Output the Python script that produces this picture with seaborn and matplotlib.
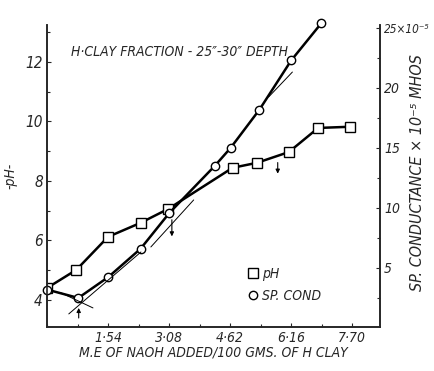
import numpy as np
import pandas as pd
import matplotlib
matplotlib.use("Agg")
import matplotlib.pyplot as plt
import seaborn as sns
from matplotlib.ticker import MultipleLocator
from matplotlib import font_manager

sns.set_style("ticks")
nomi = {f.name for f in font_manager.fontManager.ttflist}
famiglie = [n for n in ["DejaVu Sans Condensed", "Liberation Sans Narrow",
                        "DejaVu Sans"] if n in nomi]
plt.rcParams["font.family"] = famiglie
plt.rcParams["font.style"] = "italic"
plt.rcParams["font.stretch"] = "condensed"

# DATI

ph_x = [0.0, 0.74, 1.54, 2.36, 3.06, 4.68, 5.30, 6.10, 6.84, 7.64]
ph_y = [4.40, 5.01, 6.12, 6.59, 7.06, 8.44, 8.61, 8.97, 9.78, 9.82]

cond_x = [0.0, 0.79, 1.55, 2.36, 3.09, 4.23, 4.63, 5.36, 6.16, 6.92]
cond_y = [3.2, 2.5, 4.25, 6.6, 9.6, 13.5, 15.0, 18.2, 22.3, 25.4]

x_ticks = [1.54, 3.08, 4.62, 6.16, 7.70]
x_labels = ["1·54", "3·08", "4·62", "6·16", "7·70"]
ph_ticks = [4, 6, 8, 10, 12]
cond_ticks = [5, 10, 15, 20, 25]
cond_labels = ["5", "10", "15", "20", "25×10⁻⁵"]

# linee di costruzione (tangenti) e frecce
tang_x = [[0.55, 2.37], [0.36, 1.16], [2.62, 3.70], [5.59, 6.19]]
tang_y = [[1.17, 6.33], [2.92, 1.67], [6.75, 10.67], [19.25, 21.33]]
freccia_cond = [(0.80, 0.6, 1.9), (3.15, 9.25, 7.4)]
freccia_ph = [(5.82, 8.71, 8.15)]

df_ph = pd.DataFrame({"x": ph_x, "y": ph_y})
df_cond = pd.DataFrame({"x": cond_x, "y": cond_y})

fig = plt.figure(figsize=(4.35, 3.71), dpi=100)
ax = fig.add_axes([0.108, 0.1186, 0.7656, 0.814])
ax2 = ax.twinx()

sns.lineplot(data=df_ph, x="x", y="y", ax=ax, color="black", linewidth=1.8,
             marker="s", markersize=7, markerfacecolor="white",
             markeredgecolor="black", markeredgewidth=1.0, sort=False,
             estimator=None, label="pH", legend=False)
sns.lineplot(data=df_cond, x="x", y="y", ax=ax2, color="black", linewidth=1.8,
             marker="o", markersize=6, markerfacecolor="white",
             markeredgecolor="black", markeredgewidth=1.0, sort=False,
             estimator=None, label="SP. COND", legend=False)
for l in ax2.lines:
    l.set_clip_on(False)

for tx, ty in zip(tang_x, tang_y):
    ax2.plot(tx, ty, color="black", linewidth=0.7)

for fx, y0, y1 in freccia_cond:
    ax2.annotate("", xy=(fx, y1), xytext=(fx, y0),
                 arrowprops=dict(arrowstyle="-|>", color="black", lw=0.8,
                                 mutation_scale=6))
for fx, y0, y1 in freccia_ph:
    ax.annotate("", xy=(fx, y1), xytext=(fx, y0),
                arrowprops=dict(arrowstyle="-|>", color="black", lw=0.8,
                                mutation_scale=6))

ax.set_xlim(0, 8.4)
ax.set_ylim(3.09, 13.24)
ax2.set_ylim(0.08, 25.25)

ax.set_xticks(x_ticks)
ax.set_xticklabels(x_labels, fontsize=10)
ax.xaxis.set_minor_locator(MultipleLocator(0.77))
ax.set_yticks(ph_ticks)
ax.set_yticklabels([str(v) for v in ph_ticks], fontsize=11)
ax.yaxis.set_minor_locator(MultipleLocator(1))
ax2.set_yticks(cond_ticks)
ax2.set_yticklabels(cond_labels, fontsize=10)
ax2.yaxis.set_minor_locator(MultipleLocator(2.5))
ax2.get_yticklabels()[-1].set_fontsize(8.5)

for a in (ax, ax2):
    a.tick_params(which="both", direction="in", length=3, width=0.8, pad=3)
    a.tick_params(which="minor", length=2)
    for s in a.spines.values():
        s.set_linewidth(1.2)
    a.spines["top"].set_visible(False)

ax.set_xlabel("M.E OF NAOH ADDED/100 GMS. OF H CLAY", fontsize=10, labelpad=0)
ax.set_ylabel("-pH-", fontsize=10, labelpad=6)
ax2.set_ylabel("")
fig.text(418 / 435, 0.535, "SP. CONDUCTANCE × 10⁻⁵ MHOS", fontsize=11.5,
         rotation=90, ha="center", va="center")

ax.text(0.61, 12.34, "H·CLAY FRACTION - 25\u2033-30\u2033 DEPTH", fontsize=10,
        ha="left", va="center")

h1, l1 = ax.get_legend_handles_labels()
h2, l2 = ax2.get_legend_handles_labels()
ax.legend(h1 + h2, l1 + l2, loc="center left", bbox_to_anchor=(0.58, 0.14),
          frameon=False, handlelength=0.0, handletextpad=0.7, fontsize=10,
          labelspacing=0.6)
for h in ax.get_legend().legend_handles:
    h.set_linestyle("none")

fig.savefig("out.png", dpi=100)
